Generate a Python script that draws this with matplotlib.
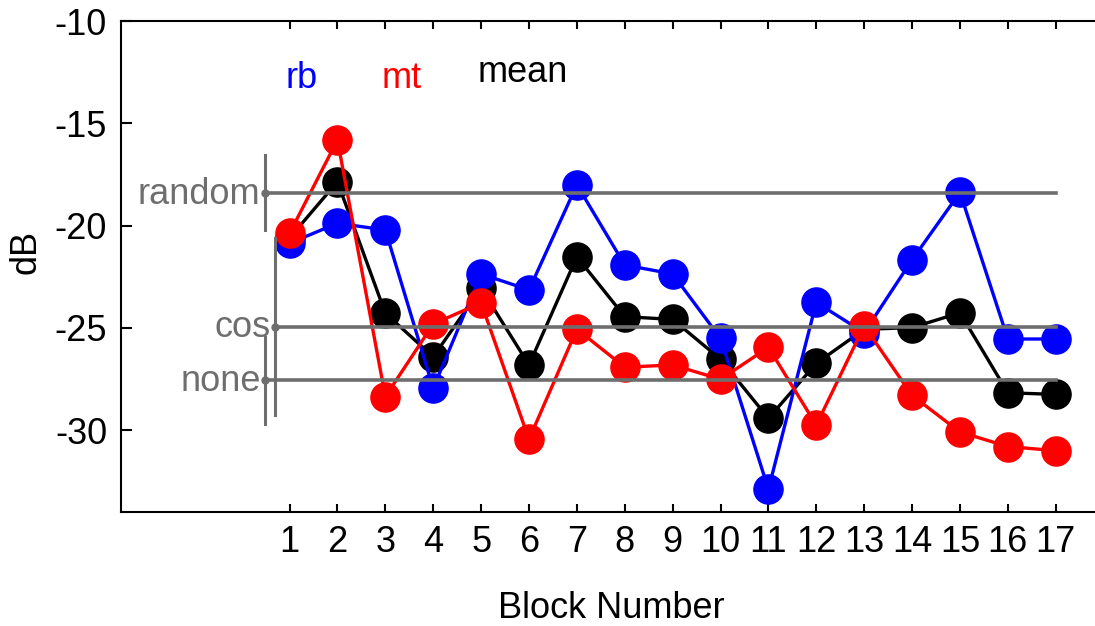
#!/usr/bin/env python3
"""
Per-block dB for rb, mt and their mean, with random / cos / none reference levels
"""

import matplotlib.pyplot as plt

# data
blocks = list(range(1, 18))
rb = [-20.86, -19.88, -20.21, -27.95, -22.36, -23.14, -18.0, -21.92, -22.36,
      -25.51, -32.89, -23.75, -25.23, -21.67, -18.37, -25.54, -25.54]
mt = [-20.37, -15.81, -28.36, -24.81, -23.77, -30.45, -25.06, -26.92, -26.81,
      -27.51, -25.95, -29.75, -24.9, -28.3, -30.09, -30.8, -31.0]
mean = [-20.6, -17.85, -24.28, -26.41, -23.06, -26.81, -21.52, -24.45, -24.58,
        -26.53, -29.42, -26.73, -25.07, -24.98, -24.26, -28.17, -28.25]

ref_names = ['random', 'cos', 'none']
ref_values = [-18.39, -24.93, -27.56]
ref_spread = [1.84, 4.32, 2.12]

y_ticks = [-10, -15, -20, -25, -30]

GRAY = '#6e6e6e'
FONT = 26


def main():
    plt.rcParams['font.family'] = ['Liberation Sans', 'DejaVu Sans']

    fig = plt.figure(figsize=(10.95, 6.26), dpi=100)
    ax = fig.add_axes([121 / 1095, 114 / 626, 974 / 1095, 490.8 / 626])

    # series: mean underneath, then rb, then mt
    ax.plot(blocks, mean, '-o', color='black', lw=2.4, ms=21, zorder=3)
    ax.plot(blocks, rb, '-o', color='#0000ff', lw=2.4, ms=21, zorder=4)
    ax.plot(blocks, mt, '-o', color='#ff0000', lw=2.4, ms=21, zorder=5)

    # reference levels drawn on top
    ref_x = [0.48, 0.69, 0.48]
    for name, val, sd, x0 in zip(ref_names, ref_values, ref_spread, ref_x):
        ax.plot([x0, blocks[-1]], [val, val], color=GRAY, lw=2.6, zorder=6)
        ax.plot([x0, x0], [val - sd, val + sd], color=GRAY, lw=2.2, zorder=6)
        ax.plot(x0, val, 'o', color=GRAY, ms=5, zorder=7)
        ax.annotate(name, xy=(x0, val), xytext=(-3, -1), textcoords='offset points',
                    ha='right', va='center', color=GRAY, fontsize=FONT)

    # series names
    ax.text(0.92, -13.28, 'rb', color='#0000ff', fontsize=FONT, ha='left', va='baseline')
    ax.text(2.92, -13.28, 'mt', color='#ff0000', fontsize=FONT, ha='left', va='baseline')
    ax.text(4.92, -12.96, 'mean', color='black', fontsize=FONT, ha='left', va='baseline')

    ax.set_xlim(-2.52, 17.82)
    ax.set_ylim(-34, -10)
    ax.set_xticks(blocks)
    ax.set_yticks(y_ticks)
    ax.set_yticklabels([str(v) for v in y_ticks])

    ax.spines['right'].set_visible(False)
    for side in ['left', 'bottom', 'top']:
        ax.spines[side].set_linewidth(1.5)
    ax.tick_params(axis='both', direction='in', labelsize=FONT, width=1.5)
    ax.tick_params(axis='x', top=True, length=6, pad=9)
    ax.tick_params(axis='y', length=8, pad=10)

    ax.set_xlabel('Block Number', fontsize=FONT)
    ax.xaxis.label.set_va('baseline')
    ax.xaxis.set_label_coords(0.5036, -0.216)
    ax.set_ylabel('dB', fontsize=FONT)
    ax.yaxis.label.set_va('center')
    ax.yaxis.set_label_coords(-0.098, 0.53)

    fig.savefig('out.png', dpi=100)


if __name__ == "__main__":
    main()
